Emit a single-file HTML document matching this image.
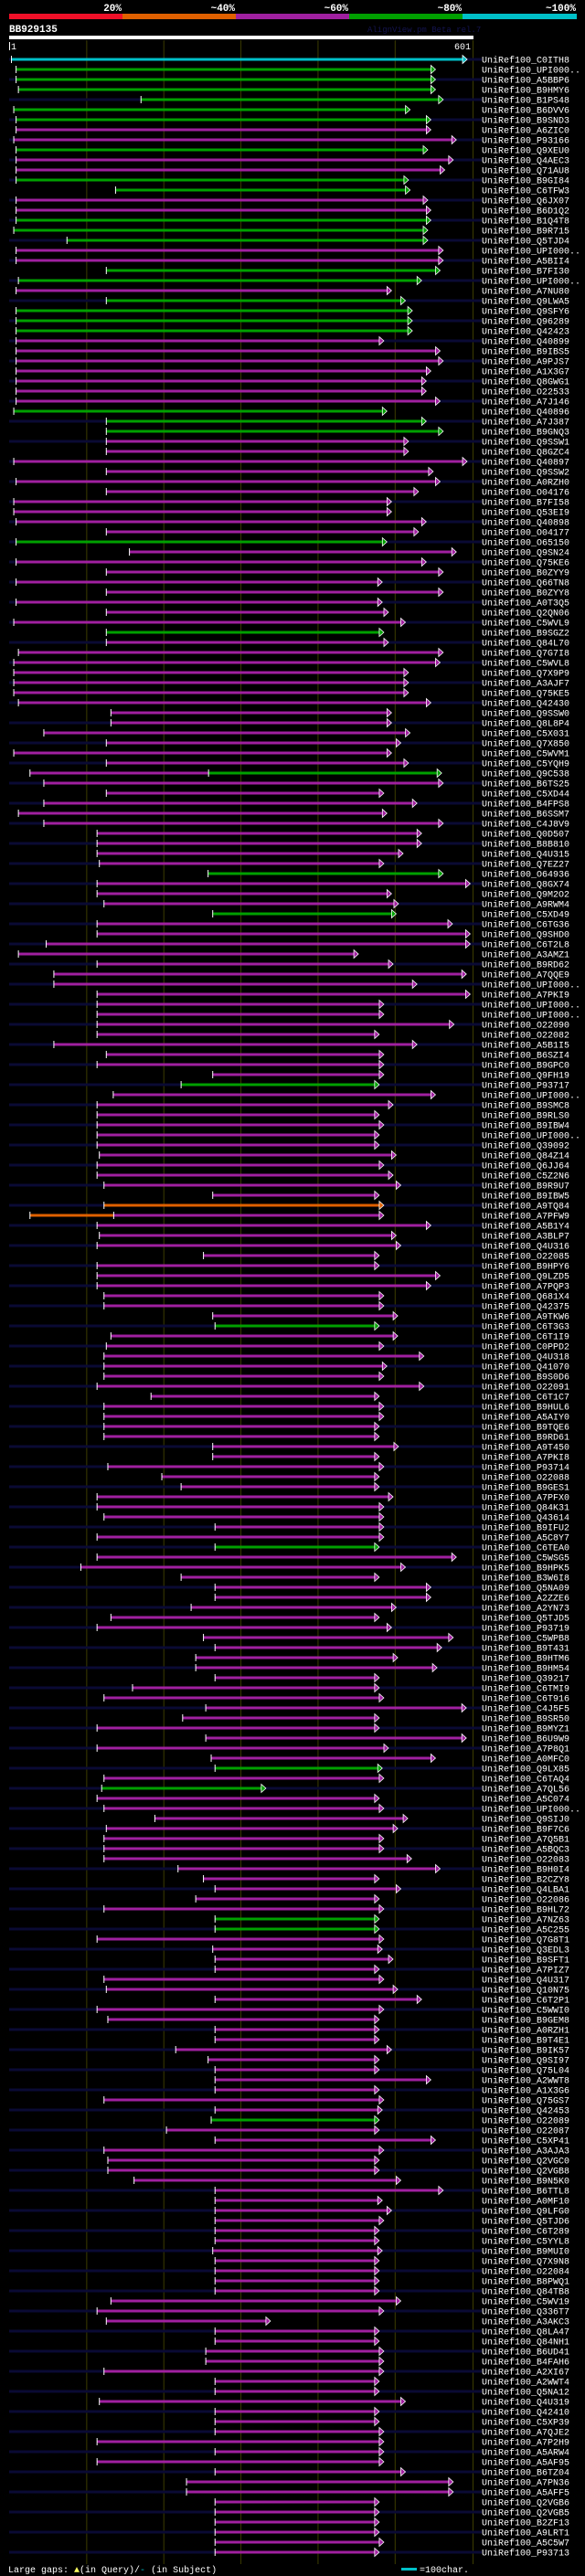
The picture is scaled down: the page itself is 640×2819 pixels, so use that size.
<!DOCTYPE html>
<html><head><meta charset="utf-8"><title>AlignView BB929135</title>
<style>
html,body{margin:0;padding:0;background:#000;}
svg{display:block;}
text{font-family:"Liberation Mono",monospace;}
</style></head>
<body>
<svg id="chart" xmlns="http://www.w3.org/2000/svg" width="640" height="2819" viewBox="0 0 640 2819">
<rect x="0" y="0" width="640" height="2819" fill="#000"/>
<g>
<rect x="10" y="15" width="124" height="6" fill="#f01028"/>
<rect x="134" y="15" width="124" height="6" fill="#e06000"/>
<rect x="258" y="15" width="124" height="6" fill="#a020a0"/>
<rect x="382" y="15" width="124" height="6" fill="#00a000"/>
<rect x="506" y="15" width="125" height="6" fill="#00c0c8"/>
<text x="133" y="12" fill="#fff" font-size="11" font-weight="bold" text-anchor="end">20%</text>
<text x="257" y="12" fill="#fff" font-size="11" font-weight="bold" text-anchor="end">~40%</text>
<text x="381" y="12" fill="#fff" font-size="11" font-weight="bold" text-anchor="end">~60%</text>
<text x="505" y="12" fill="#fff" font-size="11" font-weight="bold" text-anchor="end">~80%</text>
<text x="630" y="12" fill="#fff" font-size="11" font-weight="bold" text-anchor="end">~100%</text>
</g>
<text x="10" y="35" fill="#fff" font-size="11" font-weight="bold">BB929135</text>
<text x="402" y="35" fill="#141450" font-size="9">AlignView.pm Beta rel.7</text>
<rect x="10" y="39" width="508" height="4" fill="#fff"/>
<rect x="10" y="46" width="1" height="9" fill="#fff"/>
<text x="12" y="54" fill="#fff" font-size="10">1</text>
<text x="515" y="54" fill="#fff" font-size="10" text-anchor="end">601</text>
<rect x="517" y="46" width="1" height="9" fill="#fff"/>
<g id="grid"></g>
<g id="rows"></g>
<g>
<text x="9" y="2815" fill="#fff" font-size="10">Large gaps: <tspan fill="#ffff60">&#9650;</tspan>(in Query)/<tspan fill="#00c0c8">-</tspan> (in Subject)</text>
<rect x="439" y="2810" width="17" height="3" fill="#00c0c8"/>
<text x="459" y="2815" fill="#fff" font-size="10">=100char.</text>
</g>
</svg>
<script>
const queryLength = 601;
const gridTicks = [100, 200, 300, 400, 500, 601];
const labels = ["C0ITH8","UPI000..","A5BBP6","B9HMY6","B1PS48","B6DVV6","B9SND3","A6ZIC0","P93166","Q9XEU0","Q4AEC3","Q71AU8","B9GI84","C6TFW3","Q6JX07","B6D1Q2","B1Q4T8","B9R715","Q5TJD4","UPI000..","A5BII4","B7FI30","UPI000..","A7NU80","Q9LWA5",
"Q9SFY6","Q96289","Q42423","Q40899","B9IBS5","A9PJS7","A1X3G7","Q8GWG1","O22533","A7J146","Q40896","A7J387","B9GNQ3","Q9SSW1","Q8GZC4","Q40897","Q9SSW2","A0RZH0","O04176","B7FI58","Q53EI9","Q40898","O04177","O65150","Q9SN24",
"Q75KE6","B0ZYY9","Q66TN8","B0ZYY8","A0T3Q5","Q2QN06","C5WVL9","B9SGZ2","Q84L70","Q7G7I8","C5WVL8","Q7X9P9","A3AJF7","Q75KE5","Q42430","Q9SSW0","Q8L8P4","C5X031","Q7X850","C5WVM1","C5YQH9","Q9C538","B6TS25","C5XD44","B4FPS8",
"B6SSM7","C4J8V9","Q0D507","B8B810","Q4U315","Q7EZ27","O64936","Q8GX74","Q9M2O2","A9RWM4","C5XD49","C6TG36","Q9SHD0","C6T2L8","A3AMZ1","B9RD62","A7QQE9","UPI000..","A7PKI9","UPI000..","UPI000..","O22090","O22082","A5B1I5","B6SZI4",
"B9GPC0","Q9FH19","P93717","UPI000..","B9SMC8","B9RLS0","B9IBW4","UPI000..","Q39092","Q84Z14","Q6JJ64","C5Z2N6","B9R9U7","B9IBW5","A9TQ84","A7PFW9","A5B1Y4","A3BLP7","Q4U316","O22085","B9HPY6","Q9LZD5","A7PQP3","Q681X4","Q42375",
"A9TKW6","C6T3G3","C6T1I9","C0PPD2","Q4U318","Q41070","B9S0D6","O22091","C6T1C7","B9HUL6","A5AIY0","B9TQE6","B9RD61","A9T450","A7PKI8","P93714","O22088","B9GES1","A7PFX0","Q84K31","Q43614","B9IFU2","A5C8Y7","C6TEA0","C5WSG5",
"B9HPK5","B3W6I8","Q5NA09","A2ZZE6","A2YN73","Q5TJD5","P93719","C5WPB8","B9T431","B9HTM6","B9HM54","Q39217","C6TMI9","C6T916","C4J5F5","B9SR50","B9MYZ1","B6U9W9","A7P8Q1","A0MFC0","Q9LX85","C6TAQ4","A7QL56","A5C074","UPI000..",
"Q9SIJ0","B9F7C6","A7Q5B1","A5BQC3","O22083","B9H0I4","B2CZY8","Q4LBA1","O22086","B9HL72","A7NZ63","A5C255","Q7G8T1","Q3EDL3","B9SFT1","A7PIZ7","Q4U317","Q10N75","C6T2P1","C5WWI0","B9GEM8","A0RZH1","B9T4E1","B9IK57","Q9SI97",
"Q75L04","A2WWT8","A1X3G6","Q75GS7","Q42453","O22089","O22087","C5XP41","A3AJA3","Q2VGC0","Q2VGB8","B9N5K0","B6TTL8","A0MF10","Q9LFG0","Q5TJD6","C6T289","C5YYL8","B9MUI0","Q7X9N8","O22084","B8PWQ1","Q84TB8","C5WV19","Q336T7",
"A3AKC3","Q8LA47","Q84NH1","B6UD41","B4FAH6","A2XI67","A2WWT4","Q5NA12","Q4U319","Q42410","C5XP39","A7QJE2","A7P2H9","A5ARW4","A5AF95","B6TZ04","A7PN36","A5AFF5","Q2VGB6","Q2VGB5","B2ZF13","A9LRT1","A5C5W7","P93713"];
const starts = [3,9,9,12,171,6,9,9,6,9,9,9,9,138,9,9,9,6,75,9,9,126,12,9,126,
9,9,9,9,9,9,9,9,9,9,6,126,126,126,126,6,126,9,126,6,6,9,126,9,156,
9,126,9,126,9,126,6,126,126,12,6,6,6,6,12,132,132,45,126,6,126,27,45,126,45,
12,45,114,114,114,117,258,114,114,123,264,114,114,48,12,114,58,58,114,114,114,114,114,58,126,
114,264,223,135,114,114,114,114,114,117,114,114,123,264,123,27,114,117,114,252,114,114,114,123,123,
264,267,132,126,123,123,123,114,184,123,123,123,123,264,264,128,198,223,114,114,123,267,114,267,114,
93,223,267,267,236,132,114,252,267,242,242,267,160,123,255,225,114,255,114,262,267,123,120,114,123,
189,126,123,123,123,219,252,267,242,123,267,267,114,264,267,267,123,126,267,114,128,267,267,216,258,
267,267,267,123,267,262,204,267,123,128,128,162,267,267,267,267,267,267,264,267,267,267,267,132,114,
126,267,267,255,255,123,267,267,117,267,267,267,114,267,114,267,230,230,267,267,267,267,267,267];
const ends = [588,547,547,547,557,514,541,541,574,537,570,559,512,514,537,541,541,537,537,557,557,553,529,490,508,
517,517,517,480,553,557,541,535,535,553,484,535,557,512,512,588,544,553,525,490,490,535,525,484,574,
535,557,478,557,478,486,508,480,486,557,553,512,512,512,541,490,490,514,502,490,512,555,557,480,523,
484,557,529,529,505,480,557,592,490,499,496,569,592,592,447,492,587,523,592,480,480,571,474,523,480,
480,480,474,547,492,474,480,474,474,496,480,492,502,474,480,480,541,496,502,474,474,553,541,480,480,
498,474,498,480,532,484,480,532,474,480,480,474,474,499,474,480,474,474,492,480,480,480,480,474,574,
508,474,541,541,496,474,490,570,555,498,549,474,474,480,587,474,474,587,486,547,478,480,327,474,480,
511,498,480,480,516,553,474,502,474,480,474,474,480,478,492,474,480,498,529,480,474,474,474,490,474,
474,541,474,480,478,474,474,547,480,474,474,502,557,478,490,480,474,474,478,474,474,474,474,502,480,
333,474,474,480,480,480,474,474,508,474,474,480,480,480,480,508,570,570,474,474,474,474,480,474];
const colors = ("CGGGGGGPPGPPGGPPGGGPPGGPG"+"GGGPPPPPPPGGGPPPPPPPPPPGP"+"PPPPPPPGPPPPPPPPPPPPPPPPP"+"PPPPPPGPPPGPPPPPPPPPPPPPP"+
"PPGPPPPPPPPPPPOOPPPPPPPPP"+"PGPPPPPPPPPPPPPPPPPPPPPGP"+"PPPPPPPPPPPPPPPPPPPPGPGPP"+"PPPPPPPPPPGGPPPPPPPPPPPPP"+
"PPPPPGPPPPPPPPPPPPPPPPPPP"+"PPPPPPPPPPPPPPPPPPPPPPPP").split("");
const splitRows = [71, 115];
const splitAt = [258, 135];
const splitColors = ["G", "P"];

const palette = {C:"#00c0c8", G:"#00a000", P:"#a020a0", O:"#e06000"};
const NS = "http://www.w3.org/2000/svg";
const x0 = 10, x1 = 517;
function xScale(v){ return x0 + v * (x1 - x0) / queryLength; }
function yScale(i){ return 65 + i * 11; }
function mk(tag, attrs, parent){ const e = document.createElementNS(NS, tag); for (const k in attrs) e.setAttribute(k, attrs[k]); parent.appendChild(e); return e; }

const grid = document.getElementById("grid");
gridTicks.forEach(function(t){
  const l = mk("line", {x1: xScale(t)+0.5, x2: xScale(t)+0.5, y1: 44, y2: 2806, stroke: "#3c3c00", "stroke-width": 1}, grid);
  
  
});

const rowsG = document.getElementById("rows");
labels.forEach(function(name, i){
  const cy = yScale(i);
  const g = mk("g", {}, rowsG);
  
  
  if (i % 2 === 0) {
    const band = mk("rect", {x: 10, y: cy - 1.5, width: 517, height: 3, fill: "#0a0a34"}, g);
    
    
  }
  const sx = xScale(starts[i]), ex = xScale(ends[i]);
  const col = palette[colors[i]];
  const si = splitRows.indexOf(i);
  let endCol = col;
  if (si >= 0) {
    const mx = xScale(splitAt[si]);
    endCol = palette[splitColors[si]];
    const b1 = mk("rect", {x: sx, y: cy - 1.5, width: mx - sx, height: 3, fill: col}, g);
    
    
    const b2 = mk("rect", {x: mx, y: cy - 1.5, width: ex - mx, height: 3, fill: endCol}, g);
    
    
    const mt = mk("rect", {x: mx, y: cy - 4, width: 1, height: 8, fill: "#fff"}, g);
    
    
  } else {
    const b = mk("rect", {x: sx, y: cy - 1.5, width: ex - sx, height: 3, fill: col}, g);
    
    
  }
  const st = mk("rect", {x: sx - 0.5, y: cy - 4, width: 1, height: 8, fill: "#fff"}, g);
  
  
  const ar = mk("polygon", {points: (ex)+","+(cy-4.5)+" "+(ex+5)+","+cy+" "+(ex)+","+(cy+4.5), fill: endCol, stroke: "#fff", "stroke-width": 0.8}, g);
  
  
  const t = mk("text", {x: 527, y: cy + 3.5, fill: "#fff", "font-size": 10}, g);
  t.textContent = "UniRef100_" + name;
  
  
});
</script>
</body></html>
